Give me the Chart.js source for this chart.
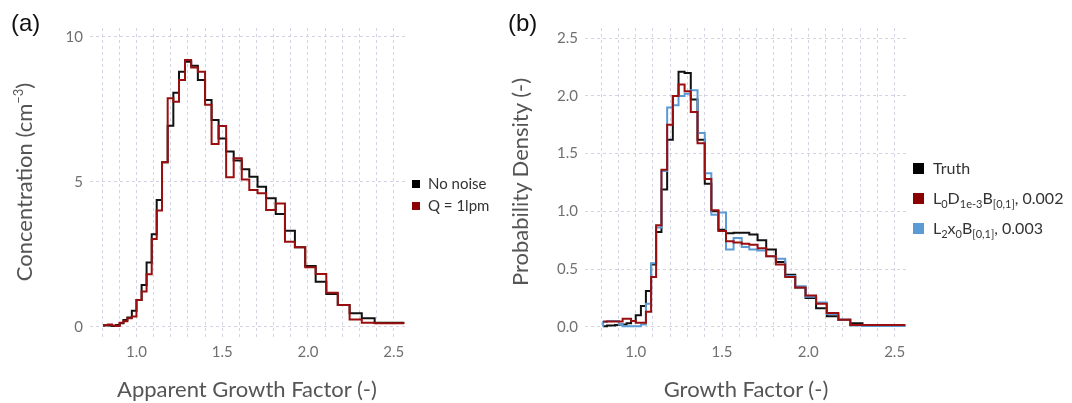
<!DOCTYPE html>
<html><head><meta charset="utf-8">
<script src="https://cdn.jsdelivr.net/npm/chart.js@4"></script>
<style>
body{margin:0;width:1072px;height:403px;background:#fff;position:relative;overflow:hidden;font-family:Lato,"Open Sans",sans-serif}
canvas{position:absolute;top:0}
#ca{left:0}
#cb{left:520px}
.lab{position:absolute;font-family:"Liberation Sans",Arial,sans-serif;font-size:24px;color:#111}
.xt{position:absolute;font-size:22px;color:#555;white-space:nowrap;transform:translateX(-50%)}
.yt{position:absolute;font-size:22px;color:#555;white-space:nowrap;transform:translate(-50%,-50%) rotate(-90deg)}
.leg{position:absolute;font-size:15px;color:#333;white-space:nowrap}
.leg div{position:relative;height:22px;line-height:22px}
.leg span.sq{display:inline-block;width:8px;height:8px;margin-right:8px;vertical-align:middle;position:relative;top:-1px}
.legb{position:absolute;font-size:16px;color:#333;white-space:nowrap}
.legb div{height:30px;line-height:30px}
.legb span.sq{display:inline-block;width:11px;height:11px;margin-right:9px;vertical-align:middle;position:relative;top:-1px}
sub{font-size:11px;vertical-align:-4px;line-height:0}
</style>
</head><body>
<canvas id="ca" width="520" height="403"></canvas>
<canvas id="cb" width="552" height="403"></canvas>
<div class="lab" style="left:11px;top:9px">(a)</div>
<div class="lab" style="left:508px;top:9px">(b)</div>
<div class="xt" style="left:247px;top:375px">Apparent Growth Factor (-)</div>
<div class="yt" style="left:23px;top:182px">Concentration (cm<sup style="font-size:13px">−3</sup>)</div>
<div class="xt" style="left:746px;top:375px">Growth Factor (-)</div>
<div class="yt" style="left:519px;top:182px">Probability Density (-)</div>
<div class="leg" style="left:412px;top:172px">
 <div><span class="sq" style="background:#000"></span>No noise</div>
 <div><span class="sq" style="background:#8b0000"></span>Q = 1lpm</div>
</div>
<div class="legb" style="left:913px;top:153px">
 <div><span class="sq" style="background:#000"></span>Truth</div>
 <div><span class="sq" style="background:#8b0000"></span>L<sub>0</sub>D<sub>1e-3</sub>B<sub>[0,1]</sub>, 0.002</div>
 <div><span class="sq" style="background:#5b9bd5"></span>L<sub>2</sub>x<sub>0</sub>B<sub>[0,1]</sub>, 0.003</div>
</div>
<script>
// bin edges (growth factor), shared by both panels
const edges = [0.811,0.834,0.857,0.880,0.902,0.924,0.947,0.973,1.000,1.030,1.059,1.089,1.118,1.149,1.182,1.215,1.248,1.283,1.319,1.358,1.400,1.438,1.479,1.523,1.567,1.614,1.658,1.706,1.756,1.812,1.866,1.924,1.984,2.045,2.107,2.174,2.243,2.314,2.389,2.465,2.562];
// panel (a): concentration per bin
const noNoise = [0.02,0.05,0.05,0.03,0.07,0.13,0.24,0.33,0.56,0.93,1.45,2.22,3.2,4.38,5.68,6.94,8.08,8.8,9.15,9.01,8.52,7.83,7.14,6.5,6.05,5.74,5.44,5.18,4.84,4.44,3.9,3.32,2.75,2.1,1.56,1.14,0.76,0.47,0.3,0.15];
const q1lpm = [0.02,0.07,0.09,0.05,0.03,0.15,0.2,0.3,0.36,0.93,1.22,1.82,3.03,4.02,5.68,7.89,7.77,8.52,9.21,8.95,8.8,7.66,6.31,6.93,5.16,5.82,5.09,4.72,4.61,4.03,4.26,2.94,2.75,2.06,1.83,1.18,0.76,0.26,0.15,0.13];
// panel (b): probability density per bin
const truth = [0.005,0.005,0.01,0.01,0.015,0.02,0.02,0.03,0.05,0.1,0.18,0.31,0.54,0.82,1.19,1.62,2.0,2.21,2.2,1.97,1.62,1.24,1.0,0.84,0.81,0.815,0.815,0.8,0.75,0.67,0.56,0.45,0.34,0.25,0.16,0.09,0.06,0.03,0.01,0.01];
const l0d = [0.045,0.045,0.045,0.045,0.045,0.045,0.07,0.07,0.05,0.035,0.035,0.13,0.43,0.88,1.36,1.75,2.0,2.1,2.04,1.86,1.59,1.28,1.01,0.83,0.74,0.73,0.72,0.71,0.68,0.61,0.54,0.43,0.34,0.27,0.2,0.12,0.06,0.015,0.015,0.015];
const l2x = [0.0,0.04,0.05,0.05,0.05,0.02,0.005,0.005,0.005,0.005,0.02,0.2,0.55,0.86,1.35,1.9,1.92,2.0,2.02,2.05,1.68,1.33,0.97,0.99,0.67,0.77,0.69,0.67,0.66,0.61,0.59,0.44,0.35,0.26,0.21,0.11,0.06,0.01,0.006,0.006];
// ticks / grid
const xGrid = [0.8,0.9,1.0,1.1,1.2,1.3,1.4,1.5,1.6,1.7,1.8,1.9,2.0,2.1,2.2,2.3,2.4,2.5];
const xLabels = [1.0,1.5,2.0,2.5];
const yTicksA = [0,5,10];
const yTicksB = [0,0.5,1.0,1.5,2.0,2.5];

function steps(vals){ return edges.map((e,i)=>({x:e,y:vals[Math.min(i,vals.length-1)]})); }
const BLACK='#111', RED='#990f0f', BLUE='#5b9bd5';
const gridCol='#d3d3e6';
function ds(vals,color,order){return {data:steps(vals),borderColor:color,borderWidth:2,stepped:'after',pointRadius:0,fill:false,order:order,tension:0};}
function makeChart(id,datasets,xr,yr,yTicks,yFmt,leftW,rightPad){
  return new Chart(document.getElementById(id),{
    type:'line',
    data:{datasets:datasets},
    options:{
      responsive:false,animation:false,
      layout:{padding:{top:28,right:rightPad,left:0,bottom:0}},
      plugins:{legend:{display:false},tooltip:{enabled:false}},
      scales:{
        x:{type:'linear',min:xr[0],max:xr[1],
          afterBuildTicks:s=>{s.ticks=xGrid.map(v=>({value:v}));},
          afterFit:s=>{s.height=66;},
          grid:{color:gridCol,lineWidth:1,drawTicks:false},
          border:{display:false,dash:[3,3]},
          ticks:{autoSkip:false,maxRotation:0,padding:6,color:'#707070',font:{family:'Lato',size:15},
            callback:v=>xLabels.some(l=>Math.abs(l-v)<1e-6)?v.toFixed(1):''}},
        y:{type:'linear',min:yr[0],max:yr[1],
          afterBuildTicks:s=>{s.ticks=yTicks.map(v=>({value:v}));},
          afterFit:s=>{s.width=leftW;},
          grid:{color:gridCol,lineWidth:1,drawTicks:false},
          border:{display:false,dash:[3,3]},
          ticks:{autoSkip:false,padding:7,color:'#707070',font:{family:'Lato',size:15},callback:yFmt}}
      }
    }
  });
}
makeChart('ca',[ds(q1lpm,RED,0),ds(noNoise,BLACK,1)],[0.729,2.566],[-0.345,10.31],yTicksA,v=>String(v),90,115);
makeChart('cb',[ds(l0d,RED,0),ds(l2x,BLUE,1),ds(truth,BLACK,2)],[0.706,2.566],[-0.089,2.589],yTicksB,v=>v.toFixed(1),65,166);
</script>
</body></html>
